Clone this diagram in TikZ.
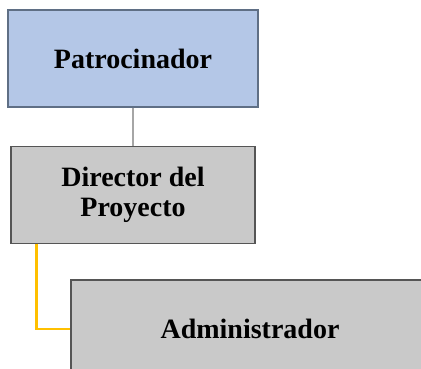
\documentclass[tikz,border=0pt]{standalone}
\usepackage{fontspec}
\setmainfont{Liberation Serif}
\usetikzlibrary{positioning}
\definecolor{sponsorfill}{HTML}{B4C7E7}
\definecolor{sponsorline}{HTML}{5F6F85}
\definecolor{rolefill}{HTML}{C9C9C9}
\definecolor{roleline}{HTML}{555555}
\definecolor{greylink}{HTML}{A6A6A6}
\definecolor{goldlink}{HTML}{FFC000}
\begin{document}
\begin{tikzpicture}[
    x=1pt, y=-1pt,
    node distance=38pt and 0pt,
    box/.style={
        draw,
        rectangle,
        align=center,
        inner sep=0pt,
        line width=1.1pt,
        font=\bfseries\fontsize{28}{30}\selectfont
    },
    sponsor/.style={box, fill=sponsorfill, draw=sponsorline},
    role/.style={box, fill=rolefill, draw=roleline},
    link/.style={line width=2.2pt, draw=greylink},
    sublink/.style={line width=2.2pt, draw=goldlink}
]
\path[use as bounding box, clip] (0,0) rectangle (421,369);

% === Boxes ===
\node[sponsor, minimum width=250pt, minimum height=97pt] (patrocinador) at (133,58.5) {Patrocinador};
\node[role, minimum width=244pt, minimum height=97pt, below=of patrocinador] (director) {Director del\\Proyecto};
\node[role, minimum width=358pt, minimum height=98pt] (admin) at (250,329) {Administrador};

% === Links ===
\draw[link] (patrocinador) -- (director);
\draw[sublink] ([xshift=26pt]director.south west) |- (admin.west);

\end{tikzpicture}
\end{document}
